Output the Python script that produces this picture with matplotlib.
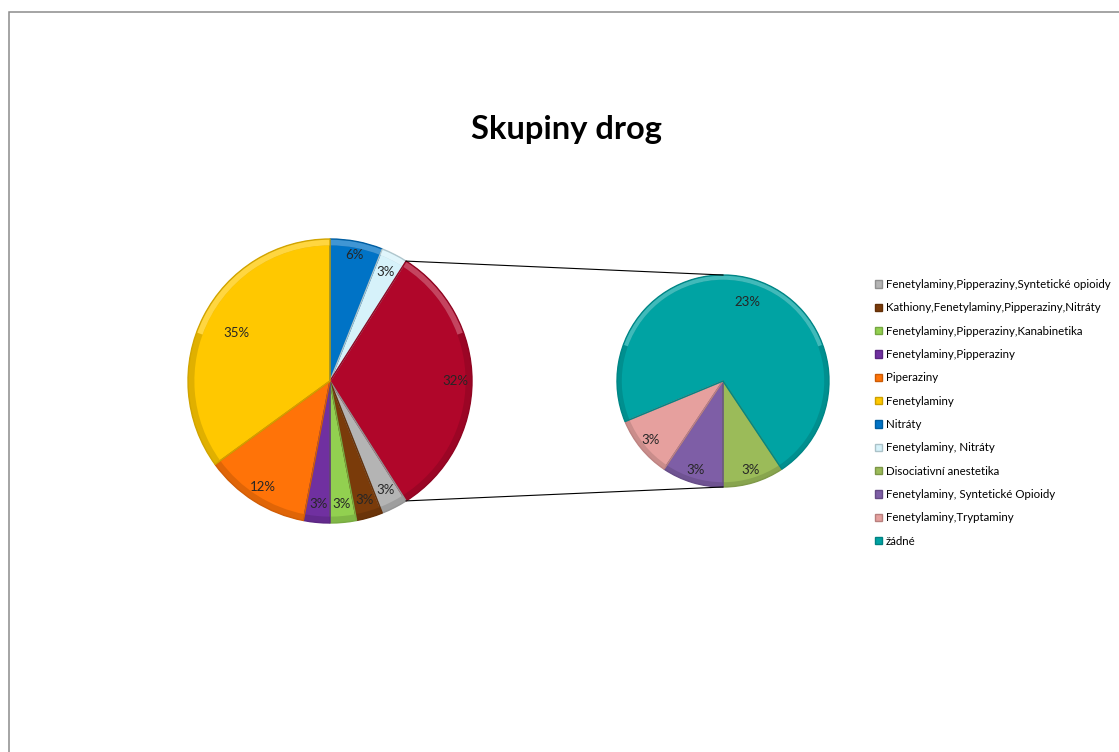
import matplotlib
matplotlib.use('Agg')
import matplotlib.pyplot as plt
from matplotlib.patches import Patch, Rectangle, Wedge
import matplotlib.colors as mcolors
import numpy as np

plt.rcParams['font.family'] = ['Lato', 'DejaVu Sans']

# data (legend order), values in percent
labels = ['Fenetylaminy,Pipperaziny,Syntetické opioidy',
          'Kathiony,Fenetylaminy,Pipperaziny,Nitráty',
          'Fenetylaminy,Pipperaziny,Kanabinetika',
          'Fenetylaminy,Pipperaziny',
          'Piperaziny',
          'Fenetylaminy',
          'Nitráty',
          'Fenetylaminy, Nitráty',
          'Disociativní anestetika',
          'Fenetylaminy, Syntetické Opioidy',
          'Fenetylaminy,Tryptaminy',
          'žádné']
values = [3, 3, 3, 3, 12, 35, 6, 3, 3, 3, 3, 23]
colors = ['#B4B4B4', '#7A3B0A', '#92D050', '#7030A0', '#FF7308', '#FFC800',
          '#0073C6', '#D6F2FA', '#9BBB59', '#7E5EA6', '#E6A09E', '#00A3A3']
other_color = '#B0062A'

# slice order, clockwise from 12 o'clock
main_order = [6, 7, 'other', 0, 1, 2, 3, 4, 5]
sec_order = [8, 9, 10, 11]

total = sum(values)
other_total = sum(values[i] for i in sec_order)


def pct(v):
    return '{:.0f}%'.format(100.0 * v / total)


def shade(c, f):
    r, g, b = mcolors.to_rgb(c)
    return (r * f, g * f, b * f)


def tint(c, f):
    r, g, b = mcolors.to_rgb(c)
    return (r + (1 - r) * f, g + (1 - g) * f, b + (1 - b) * f)


fig = plt.figure(figsize=(11.19, 7.52), dpi=100)
ax = fig.add_axes([0, 0, 1, 1])
ax.axis('off')

# outer chart border (right and bottom edges fall outside the picture)
ax.add_patch(Rectangle((8.5, -20), 1200, 760.5, fill=False,
                       edgecolor='#8C8C8C', linewidth=1.1))

ax.text(566, 752 - 130, 'Skupiny drog', ha='center', va='center',
        fontsize=23.5, fontweight='bold', color='black')

# main pie
m_vals = [other_total if k == 'other' else values[k] for k in main_order]
m_cols = [other_color if k == 'other' else colors[k] for k in main_order]
m_center = (330, 752 - 381)
m_r = 142
wedges, _ = ax.pie(m_vals, colors=m_cols, startangle=90, counterclock=False,
                   center=m_center, radius=m_r, frame=True,
                   wedgeprops=dict(edgecolor='none'))

# secondary pie, first slice ends at 6 o'clock
s_vals = [values[k] for k in sec_order]
s_cols = [colors[k] for k in sec_order]
s_center = (723, 752 - 381)
s_r = 106
s_start = -90 + 360.0 * s_vals[0] / other_total
swedges, _ = ax.pie(s_vals, colors=s_cols, startangle=s_start, counterclock=False,
                    center=s_center, radius=s_r, frame=True,
                    wedgeprops=dict(edgecolor='none'))

# bevel-ish rim: lighter on the upper part, darker elsewhere
for w in list(wedges) + list(swedges):
    c = w.get_facecolor()
    t1, t2 = w.theta1, w.theta2
    ax.add_patch(Wedge(w.center, w.r, t1, t2, width=w.r * 0.045,
                       facecolor=shade(c, 0.88), edgecolor='none'))
    for base in (0, 360, -360):
        a1 = max(t1, 20 + base)
        a2 = min(t2, 160 + base)
        if a2 > a1:
            ax.add_patch(Wedge(w.center, w.r, a1, a2, width=w.r * 0.045,
                               facecolor=tint(c, 0.25), edgecolor='none'))
    ax.add_patch(Wedge(w.center, w.r, t1, t2, facecolor='none',
                       edgecolor=shade(c, 0.82), linewidth=1.0))


def put_labels(ws, vals, dists):
    for w, v, d in zip(ws, vals, dists):
        a = np.deg2rad((w.theta1 + w.theta2) / 2)
        x = w.center[0] + d * w.r * np.cos(a)
        y = w.center[1] + d * w.r * np.sin(a)
        ax.text(x, y, pct(v), ha='center', va='center', fontsize=9.5,
                color='#262626')


put_labels(wedges, m_vals, [0.9, 0.86, 0.88, 0.86, 0.87, 0.87, 0.87, 0.88, 0.74])
put_labels(swedges, s_vals, [0.88, 0.88, 0.88, 0.78])

# connector lines from "other" slice to secondary pie
ow = wedges[main_order.index('other')]
for ang, sy in [(ow.theta1, -1), (ow.theta2, 1)]:
    a = np.deg2rad(ang)
    x0 = m_center[0] + m_r * np.cos(a)
    y0 = m_center[1] + m_r * np.sin(a)
    ax.plot([x0, s_center[0]], [y0, s_center[1] + sy * s_r],
            color='black', linewidth=0.8)

ax.set_xlim(0, 1119)
ax.set_ylim(0, 752)
ax.set_aspect('equal')

handles = [Patch(facecolor=c, edgecolor=shade(c, 0.8)) for c in colors]
ax.legend(handles, labels, loc='upper left', bbox_to_anchor=(875 / 1119, 1 - 279 / 752),
          frameon=False, fontsize=8.3, handlelength=0.6, handleheight=0.6,
          handletextpad=0.35, labelspacing=1.07, borderpad=0, borderaxespad=0)

fig.savefig('out.png', dpi=100, facecolor='white')
